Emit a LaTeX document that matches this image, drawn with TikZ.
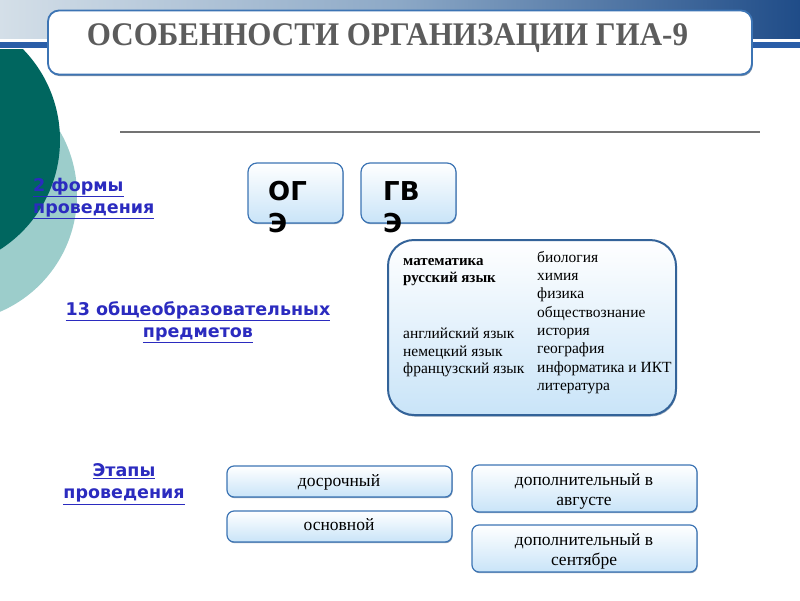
\documentclass[tikz,border=0pt]{standalone}
\usepackage{fontspec}
\setmainfont{Liberation Serif}
\newfontfamily\labelfont{DejaVu Sans}
\usetikzlibrary{positioning,shadows}

\definecolor{tealdark}{HTML}{00665F}
\definecolor{teallight}{HTML}{9CCDCB}
\definecolor{linkblue}{HTML}{2B2BBF}
\definecolor{boxblue}{HTML}{3C74B4}
\definecolor{paleblue}{HTML}{C9E4F8}
\definecolor{titlegray}{HTML}{5C5C5C}
\definecolor{bandblue}{HTML}{2A5EA8}
\definecolor{bannerleft}{HTML}{D4DFE8}
\definecolor{bannermid}{HTML}{8CA8C6}
\definecolor{bannerright}{HTML}{1F4C88}

\tikzset{
  lbl/.style={font=\labelfont\bfseries\fontsize{17.5}{22}\selectfont, text=linkblue, inner sep=0pt},
  formbox/.style={draw=boxblue, line width=1.2pt, rounded corners=9pt,
    top color=white, bottom color=paleblue, minimum width=95pt, minimum height=60pt,
    drop shadow={fill=boxblue!60!black, opacity=.5, shadow xshift=0.6pt, shadow yshift=-1.2pt}},
  formtext/.style={font=\labelfont\bfseries\fontsize{26}{32}\selectfont, align=left, inner sep=0pt, anchor=north west},
  stagebox/.style={draw=boxblue, line width=1.2pt, rounded corners=7pt,
    top color=white, bottom color=paleblue, minimum width=225pt,
    drop shadow={fill=boxblue!60!black, opacity=.5, shadow xshift=0.6pt, shadow yshift=-1.2pt}},
  subj/.style={font=\fontsize{15.5}{18.3}\selectfont, align=left, inner sep=0pt, anchor=north west},
  stagetext/.style={font=\fontsize{17.5}{20}\selectfont, align=center, inner sep=0pt},
}

\begin{document}
\begin{tikzpicture}[x=1pt,y=-1pt]
  \useasboundingbox (0,0) rectangle (800,600);
  % banner and circles
  \shade[left color=bannerleft, right color=bannerright, middle color=bannermid] (0,0) rectangle (800,38);
  \fill[bandblue] (0,42) rectangle (800,48);
  \begin{scope}
    \clip (0,49) rectangle (800,600);
    \fill[teallight] (-50,195) circle (127);
    \fill[tealdark] (-70,140) circle (130);
  \end{scope}
  \draw[black!55, line width=2pt] (120,132) -- (760,132);

  % title
  \node[draw=boxblue, line width=1.8pt, fill=white, rounded corners=11pt,
    minimum width=704pt, minimum height=64pt,
    drop shadow={fill=boxblue!60!black, opacity=.6, shadow xshift=0.8pt, shadow yshift=-1.6pt}] (titlebox) at (400,42.5) {};
  \node[font=\bfseries\fontsize{33}{40}\selectfont, text=titlegray, xscale=0.94] (title) at (387.5,38) {ОСОБЕННОСТИ ОРГАНИЗАЦИИ ГИА-9};

  % labels on the left
  \node[lbl, align=left, anchor=north west] (forms) at (33,178) {\underline{2 формы}\\\underline{проведения}};
  \node[lbl, align=center] (subjects) at (198,322) {\underline{13 общеобразовательных}\\\underline{предметов}};
  \node[lbl, align=center] (stages) at (124,484) {\underline{Этапы}\\\underline{проведения}};

  % forms
  \node[formbox] (oge) at (295.5,193) {};
  \node[formbox] (gve) at (408.5,193) {};
  \node[formtext] (ogetext) at (268,181) {ОГ\\Э};
  \node[formtext] (gvetext) at (383,181) {ГВ\\Э};

  % subjects
  \node[draw=boxblue!85!black, line width=2pt, rounded corners=26pt, top color=white, bottom color=paleblue,
    minimum width=288pt, minimum height=175pt,
    drop shadow={fill=boxblue!60!black, opacity=.5, shadow xshift=0.8pt, shadow yshift=-1.5pt}] (subjbox) at (532,327.5) {};
  \node[subj, font=\bfseries\fontsize{15}{17}\selectfont] (core) at (403,258) {математика\\русский язык};
  \node[subj, font=\fontsize{15.5}{17.5}\selectfont] (langs) at (403,328) {английский язык\\немецкий язык\\французский язык};
  \node[subj] (others) at (537,251) {биология\\химия\\физика\\обществознание\\история\\география\\информатика и ИКТ\\литература};

  % stages
  \node[stagebox, minimum height=31pt] (early) at (339.5,481.5) {};
  \node[stagebox, minimum height=31pt] (main) at (339.5,526.5) {};
  \node[stagebox, minimum height=47pt] (aug) at (584.5,488.5) {};
  \node[stagebox, minimum height=47pt] (sep) at (584.5,548.5) {};
  \node[stagetext] (earlytext) at (339,482) {досрочный};
  \node[stagetext] (maintext) at (339,525) {основной};
  \node[stagetext] (augtext) at (584,491) {дополнительный в\\августе};
  \node[stagetext] (septext) at (584,551) {дополнительный в\\сентябре};
\end{tikzpicture}
\end{document}
